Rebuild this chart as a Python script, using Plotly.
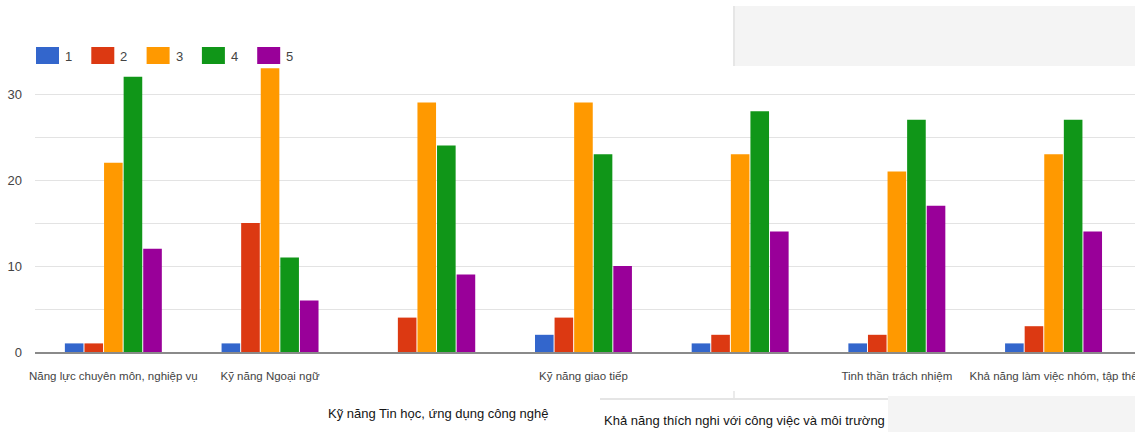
import plotly.graph_objects as go

# ---- data ----
categories = [
    "Năng lực chuyên môn, nghiệp vụ",
    "Kỹ năng Ngoại ngữ",
    "Kỹ năng Tin học, ứng dụng công nghệ",
    "Kỹ năng giao tiếp",
    "Khả năng thích nghi với công việc và môi trường",
    "Tinh thần trách nhiệm",
    "Khả năng làm việc nhóm, tập thể",
]
series_names = ["1", "2", "3", "4", "5"]
s1 = [1, 1, 0, 2, 1, 1, 1]
s2 = [1, 15, 4, 4, 2, 2, 3]
s3 = [22, 33, 29, 29, 23, 21, 23]
s4 = [32, 11, 24, 23, 28, 27, 27]
s5 = [12, 6, 9, 10, 14, 17, 14]
series_values = [s1, s2, s3, s4, s5]
y_ticks = [0, 10, 20, 30]
# labels drawn on a second, lower row (Google Charts stagger)
lower_row = ["Kỹ năng Tin học, ứng dụng công nghệ",
             "Khả năng thích nghi với công việc và môi trường"]

colors = ["#3366cc", "#dc3912", "#ff9900", "#109618", "#990099"]

REG = "Liberation Sans, Arial, sans-serif"

W, H = 1135, 432
PL, PR, PT, PB = 35, 1135, 51, 352          # plot box in pixels
ML, MR, MT, MB = PL, W - PR, PT, H - PB
PW, PH = PR - PL, PB - PT
CAT_PX = 156.7                              # category pitch in the original
x_hi = -0.5 + PW / CAT_PX


def px_x(p):
    return (p - PL) / PW


def px_y(p):
    return (PB - p) / PH


fig = go.Figure()
for name, vals, col in zip(series_names, series_values, colors):
    fig.add_trace(go.Bar(
        x=categories, y=vals, name=name,
        marker=dict(color=col, line=dict(width=0)),
        showlegend=False,
    ))

ticktext = ["" if c in lower_row else c for c in categories]

shapes = []
annotations = []

# manual legend (wide swatches like the original)
for i, (name, col) in enumerate(zip(series_names, colors)):
    x0 = 36 + 55.3 * i
    shapes.append(dict(type="rect", xref="paper", yref="paper",
                       x0=px_x(x0), x1=px_x(x0 + 23), y0=px_y(64), y1=px_y(47),
                       fillcolor=col, line=dict(width=0), layer="above"))
    annotations.append(dict(xref="paper", yref="paper", x=px_x(x0 + 27), y=px_y(56),
                            text=name, showarrow=False, xanchor="left", yanchor="middle",
                            font=dict(family=REG, size=13, color="#444444")))

# staggered lower-row category labels
shifts = {lower_row[0]: (11, -61), lower_row[1]: (4, -68)}
for lab in lower_row:
    xs, ys = shifts[lab]
    annotations.append(dict(xref="x", yref="paper", x=lab, y=0, xshift=xs, yshift=ys,
                            text=lab, showarrow=False, xanchor="center", yanchor="middle",
                            font=dict(family=REG, size=13, color="#151515")))

# screenshot artefacts: grey panels
shapes.append(dict(type="rect", xref="paper", yref="paper",
                   x0=px_x(721), x1=px_x(733), y0=px_y(58), y1=px_y(44),
                   fillcolor="white", line=dict(width=0), layer="above"))
shapes.append(dict(type="rect", xref="paper", yref="paper",
                   x0=px_x(733), x1=px_x(1140), y0=px_y(66), y1=px_y(6),
                   fillcolor="#f4f4f4", line=dict(width=0), layer="above"))
shapes.append(dict(type="line", xref="paper", yref="paper",
                   x0=px_x(734), x1=px_x(734), y0=px_y(66), y1=px_y(6),
                   line=dict(color="#e6e6e6", width=2), layer="above"))
shapes.append(dict(type="rect", xref="paper", yref="paper",
                   x0=px_x(888), x1=px_x(1140), y0=px_y(440), y1=px_y(396),
                   fillcolor="#f4f4f4", line=dict(width=0), layer="above"))
shapes.append(dict(type="line", xref="paper", yref="paper",
                   x0=px_x(600), x1=px_x(888), y0=px_y(399), y1=px_y(399),
                   line=dict(color="#dddddd", width=1.5), layer="above"))
shapes.append(dict(type="line", xref="paper", yref="paper",
                   x0=px_x(734), x1=px_x(734), y0=px_y(399), y1=px_y(391),
                   line=dict(color="#e4e4e4", width=1.5), layer="above"))

fig.update_layout(
    width=W, height=H,
    margin=dict(l=ML, r=MR, t=MT, b=MB, pad=0, autoexpand=False),
    paper_bgcolor="white", plot_bgcolor="white",
    barmode="group", bargap=0.375, bargroupgap=0.05,
    font=dict(family=REG, size=12, color="#444444"),
    xaxis=dict(
        type="category", range=[-0.5, x_hi], automargin=False,
        tickmode="array", tickvals=categories, ticktext=ticktext,
        tickangle=0, ticks="", showgrid=False,
        showline=True, linecolor="#8a8a8a", linewidth=2,
        tickfont=dict(family=REG, size=11.5, color="#444444"),
        ticklabelstandoff=12,
    ),
    yaxis=dict(
        range=[0, 35], tickmode="array", tickvals=y_ticks, automargin=False,
        ticks="", showgrid=True, gridcolor="#e3e3e3", gridwidth=1,
        zeroline=False, showline=False,
        minor=dict(dtick=5, tick0=0, showgrid=True, gridcolor="#e3e3e3", gridwidth=1),
        tickfont=dict(family=REG, size=13, color="#444444"),
        ticklabelstandoff=12,
    ),
    shapes=shapes, annotations=annotations,
)

fig.write_html("out.html",
               config={"displayModeBar": False, "staticPlot": True},
               post_script="document.body.style.margin='0';document.body.style.overflow='hidden';")
